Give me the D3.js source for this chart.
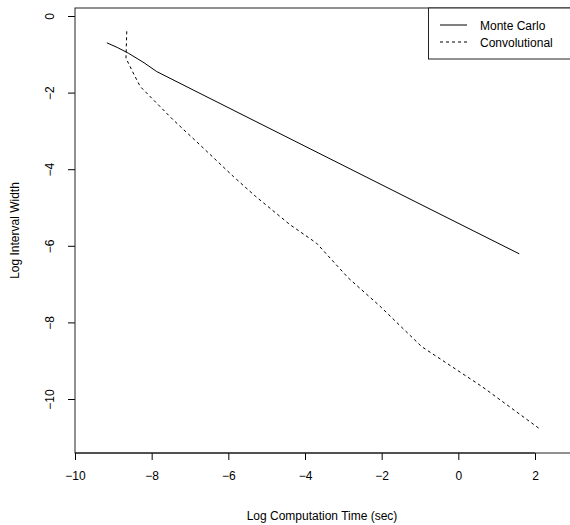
<!DOCTYPE html>
<html>
<head>
<meta charset="utf-8">
<script src="https://cdn.jsdelivr.net/npm/d3@7"></script>
<style>
  body { margin: 0; background: #fff; }
  text { font-family: "Liberation Sans", Arial, sans-serif; }
</style>
</head>
<body>
<div id="chart-area"></div>
<script>
const FIGURE = { WIDTH: 570, HEIGHT: 525 };
const PLOT = { LEFT: 75, TOP: 8, RIGHT: 570, BOTTOM: 453 };

// Monte Carlo: log computation time vs log interval width
const mcTime  = [-9.17, -8.90, -8.61, -8.20, -7.87, -7.00, -4.00, -1.00, 1.59];
const mcWidth = [-0.70, -0.82, -0.97, -1.22, -1.45, -1.89, -3.40, -4.91, -6.21];

// Convolutional
const convTime  = [-8.65, -8.67, -8.50, -8.30, -7.44, -6.65, -5.87, -5.30, -4.39, -3.70, -2.87, -2.04, -1.65, -0.96, -0.04, 0.61, 2.15];
const convWidth = [-0.40, -1.10, -1.45, -1.84, -2.71, -3.45, -4.19, -4.70, -5.45, -5.93, -6.84, -7.58, -7.96, -8.63, -9.24, -9.67, -10.80];

const xTicks = [-10, -8, -6, -4, -2, 0, 2];
const yTicks = [0, -2, -4, -6, -8, -10];
const seriesNames = ["Monte Carlo", "Convolutional"];

let svg = d3.select("#chart-area")
    .append('svg')
        .attr('width', FIGURE.WIDTH)
        .attr('height', FIGURE.HEIGHT);

// scales: -10 sits on the left edge, 38.33 px per unit
let x = d3.scaleLinear()
    .domain([-10, 2])
    .range([PLOT.LEFT, 535]);

let y = d3.scaleLinear()
    .domain([0, -10])
    .range([16, 399]);

let line = d3.line()
    .x(d => x(d[0]))
    .y(d => y(d[1]));

const mcData = mcTime.map((t, i) => [t, mcWidth[i]]);
const convData = convTime.map((t, i) => [t, convWidth[i]]);

// lines
svg.append('path')
    .datum(mcData)
    .attr('d', line)
    .attr('fill', 'none')
    .attr('stroke', 'black')
    .attr('stroke-width', 1);

svg.append('path')
    .datum(convData)
    .attr('d', line)
    .attr('fill', 'none')
    .attr('stroke', 'black')
    .attr('stroke-width', 1)
    .attr('stroke-dasharray', '3,3');

// axes
let xAxis = d3.axisBottom(x).tickValues(xTicks).tickSize(7).tickPadding(11)
    .tickFormat(d => d < 0 ? '\u2212' + Math.abs(d) : d);
svg.append('g')
    .attr('class', 'x-axis')
    .attr('transform', `translate(0, ${PLOT.BOTTOM})`)
    .call(xAxis);

let yAxis = d3.axisLeft(y).tickValues(yTicks).tickSize(7)
    .tickFormat(d => d < 0 ? '\u2212' + Math.abs(d) : d);
let yG = svg.append('g')
    .attr('class', 'y-axis')
    .attr('transform', `translate(${PLOT.LEFT}, 0)`)
    .call(yAxis);
yG.selectAll('.tick text')
    .attr('x', null).attr('dy', null)
    .attr('transform', 'translate(-21, 0) rotate(-90)')
    .attr('text-anchor', 'middle')
    .attr('dominant-baseline', 'auto')
    .attr('y', 0);

svg.selectAll('.domain').remove();
svg.selectAll('.tick text').attr('font-size', 12).attr('fill', 'black')
    .attr('font-family', '"Liberation Sans", Arial, sans-serif');
svg.selectAll('.tick line').attr('stroke', 'black');

// R draws the axis line only between the extreme ticks
svg.append('line')
    .attr('x1', x(-10)).attr('x2', x(2))
    .attr('y1', PLOT.BOTTOM).attr('y2', PLOT.BOTTOM)
    .attr('stroke', 'black');

// box
svg.append('rect')
    .attr('x', PLOT.LEFT).attr('y', PLOT.TOP)
    .attr('width', PLOT.RIGHT + 5 - PLOT.LEFT)
    .attr('height', PLOT.BOTTOM - PLOT.TOP)
    .attr('fill', 'none')
    .attr('stroke', '#222')
    .attr('stroke-width', 1);

// axis titles
svg.append('text')
    .attr('x', 322).attr('y', 520)
    .attr('text-anchor', 'middle')
    .attr('font-size', 12)
    .text('Log Computation Time (sec)');

svg.append('text')
    .attr('transform', `translate(19, ${(PLOT.TOP + PLOT.BOTTOM) / 2}) rotate(-90)`)
    .attr('text-anchor', 'middle')
    .attr('font-size', 12)
    .text('Log Interval Width');

// legend
let legend = svg.append('g');
legend.append('rect')
    .attr('x', 428.5).attr('y', PLOT.TOP)
    .attr('width', 145).attr('height', 51)
    .attr('fill', 'white')
    .attr('stroke', '#222');

seriesNames.forEach((name, i) => {
    let ly = 25 + i * 17;
    legend.append('line')
        .attr('x1', 440).attr('x2', 467)
        .attr('y1', ly).attr('y2', ly)
        .attr('stroke', 'black')
        .attr('stroke-dasharray', i === 1 ? '3,3' : null);
    legend.append('text')
        .attr('x', 480).attr('y', ly + 4.5)
        .attr('font-size', 12)
        .text(name);
});
</script>
</body>
</html>
